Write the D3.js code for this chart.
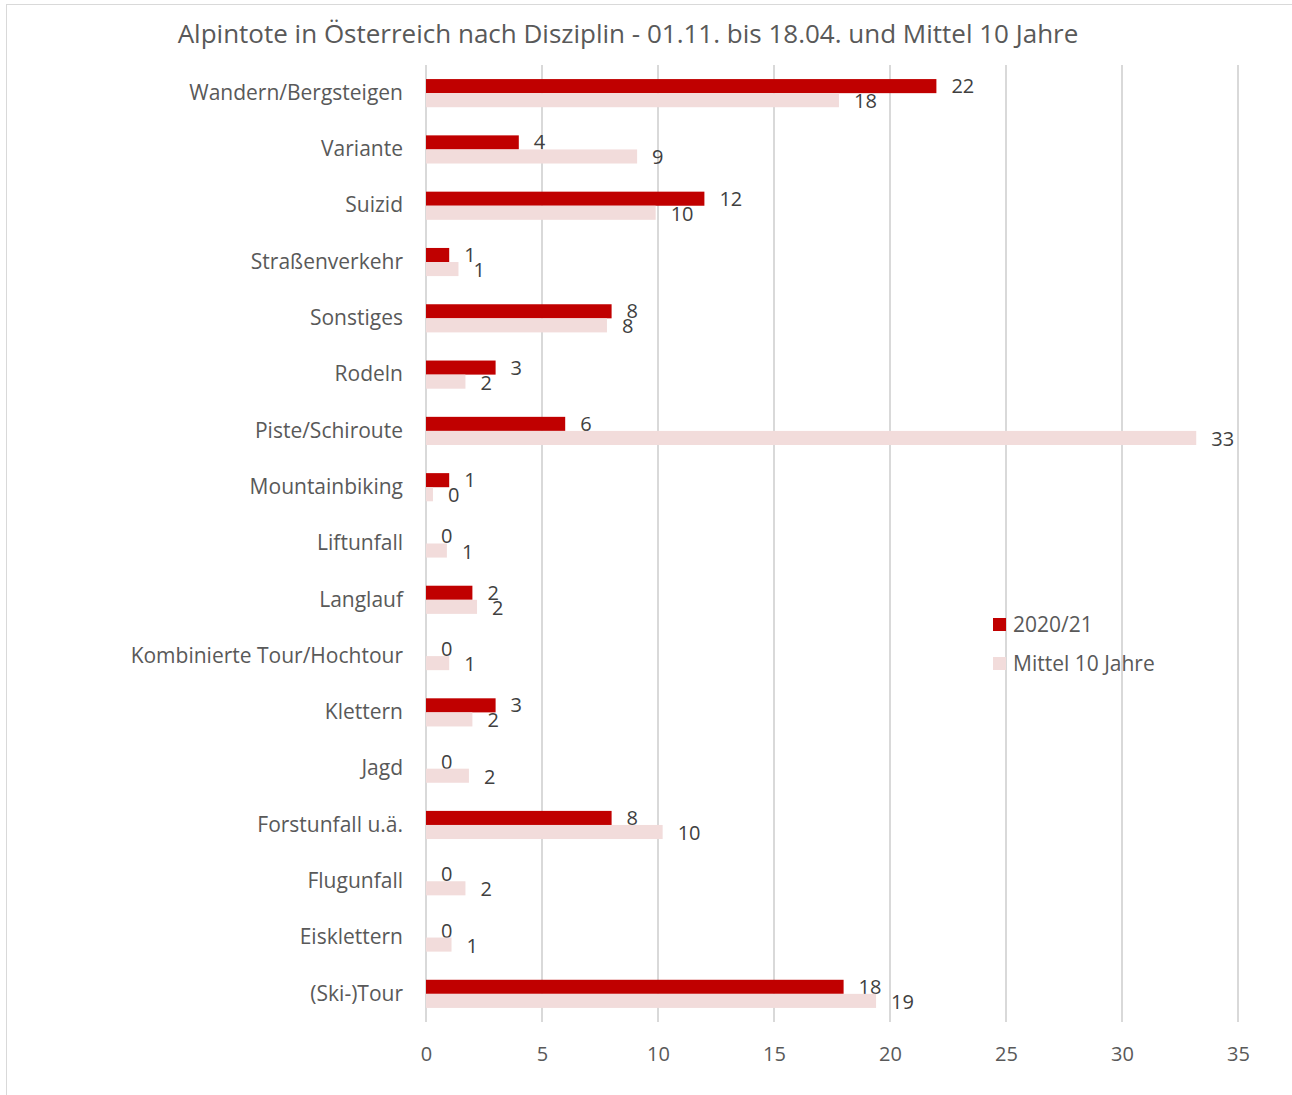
<!DOCTYPE html>
<html>
<head>
<meta charset="utf-8">
<script src="https://cdn.jsdelivr.net/npm/d3@7"></script>
<style>
  body { margin: 0; background: #fff; }
  text { font-family: "Open Sans", "Noto Sans", sans-serif; }
</style>
</head>
<body>
<div id="chart"></div>
<script>
// categories top to bottom
var categories = ["Wandern/Bergsteigen", "Variante", "Suizid", "Straßenverkehr", "Sonstiges",
  "Rodeln", "Piste/Schiroute", "Mountainbiking", "Liftunfall", "Langlauf",
  "Kombinierte Tour/Hochtour", "Klettern", "Jagd", "Forstunfall u.ä.", "Flugunfall",
  "Eisklettern", "(Ski-)Tour"];

var seriesNames = ["2020/21", "Mittel 10 Jahre"];

var values2021 = [22, 4, 12, 1, 8, 3, 6, 1, 0, 2, 0, 3, 0, 8, 0, 0, 18];
var valuesMittel = [17.8, 9.1, 9.9, 1.4, 7.8, 1.7, 33.2, 0.3, 0.9, 2.2, 1.0, 2.0, 1.85, 10.2, 1.7, 1.1, 19.4];

var xTicks = [0, 5, 10, 15, 20, 25, 30, 35];

var colors = ["#C00000", "#F2DCDB"];

var svgWidth = 1292;
var svgHeight = 1095;

var svg = d3.select("#chart")
  .append("svg")
  .attr("width", svgWidth)
  .attr("height", svgHeight);

// chart border (top and left visible)
svg.append("rect")
  .attr("x", 6.5)
  .attr("y", 4.5)
  .attr("width", svgWidth)
  .attr("height", svgHeight)
  .attr("fill", "none")
  .attr("stroke", "#d9d9d9")
  .attr("stroke-width", 1);

var xScale = d3.scaleLinear()
  .domain([0, 35])
  .range([426, 1238]);

var yScale = d3.scaleBand()
  .domain(categories)
  .range([65, 1022])
  .paddingInner(0.5)
  .paddingOuter(0.25);

var ySub = d3.scaleBand()
  .domain(seriesNames)
  .range([0, yScale.bandwidth()]);

// gridlines
svg.append("g")
  .selectAll("line")
  .data(xTicks)
  .enter()
  .append("line")
  .attr("x1", d => xScale(d))
  .attr("x2", d => xScale(d))
  .attr("y1", 65)
  .attr("y2", 1022)
  .attr("stroke", "#d9d9d9")
  .attr("stroke-width", 2);

// x axis labels
var xAxis = d3.axisBottom(xScale).tickValues(xTicks).tickSize(0).tickPadding(25);
var xAxisG = svg.append("g")
  .attr("transform", "translate(0, 1022)")
  .call(xAxis);
xAxisG.select(".domain").remove();
xAxisG.selectAll("text")
  .attr("font-size", "20px")
  .attr("fill", "#595959")
  .style("font-family", "'Open Sans', sans-serif");

// category labels
var yAxis = d3.axisLeft(yScale).tickSize(0).tickPadding(23);
var yAxisG = svg.append("g")
  .attr("transform", "translate(426, 0)")
  .call(yAxis);
yAxisG.select(".domain").remove();
yAxisG.selectAll("text")
  .attr("font-size", "21px")
  .attr("fill", "#595959")
  .style("font-family", "'Open Sans', sans-serif");

var seriesData = [values2021, valuesMittel];

seriesData.forEach(function (vals, i) {
  var name = seriesNames[i];
  var g = svg.append("g");

  g.selectAll("rect")
    .data(vals)
    .enter()
    .append("rect")
    .attr("x", xScale(0))
    .attr("y", (d, j) => yScale(categories[j]) + ySub(name))
    .attr("width", d => xScale(d) - xScale(0))
    .attr("height", ySub.bandwidth())
    .attr("fill", colors[i]);

  g.selectAll("text")
    .data(vals)
    .enter()
    .append("text")
    .attr("x", d => xScale(d) + 15)
    .attr("y", (d, j) => yScale(categories[j]) + ySub(name) + ySub.bandwidth() / 2 + i)
    .attr("dy", "0.35em")
    .attr("font-size", "20px")
    .attr("fill", "#404040")
    .text(d => Math.round(d));
});

// title
svg.append("text")
  .attr("x", 628)
  .attr("y", 34)
  .attr("dy", "0.35em")
  .attr("text-anchor", "middle")
  .attr("font-size", "26px")
  .attr("fill", "#595959")
  .text("Alpintote in Österreich nach Disziplin - 01.11. bis 18.04. und Mittel 10 Jahre");

// legend
var legend = svg.append("g")
  .selectAll("g")
  .data(seriesNames)
  .enter()
  .append("g")
  .attr("transform", (d, i) => `translate(993, ${618 + i * 39})`);

legend.append("rect")
  .attr("width", 13)
  .attr("height", 13)
  .attr("fill", (d, i) => colors[i]);

legend.append("text")
  .attr("x", 20)
  .attr("y", 7)
  .attr("dy", "0.35em")
  .attr("font-size", "21px")
  .attr("fill", "#595959")
  .text(d => d);
</script>
</body>
</html>
